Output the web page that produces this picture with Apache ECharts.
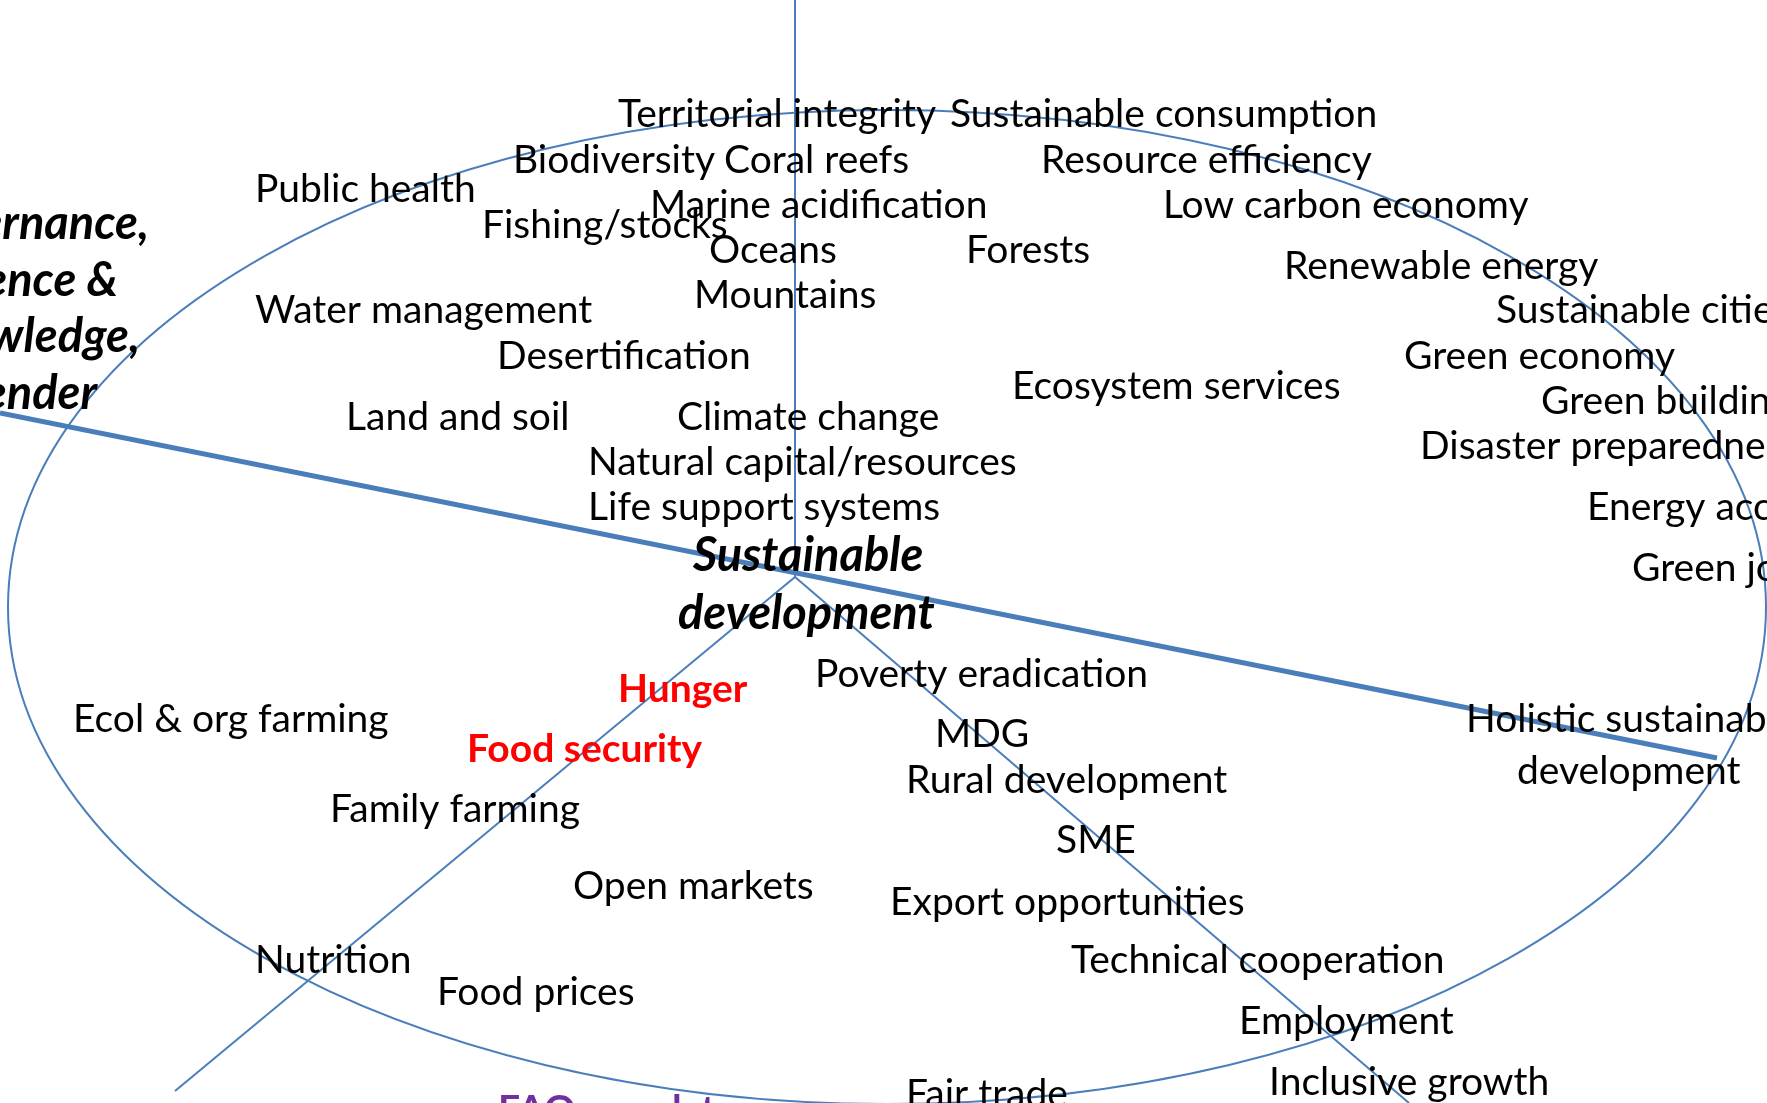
<!DOCTYPE html>
<html>
<head>
<meta charset="utf-8">
<title>Sustainable development</title>
<script src="https://cdn.jsdelivr.net/npm/echarts@6/dist/echarts.min.js"></script>
<style>
  html, body { margin: 0; padding: 0; background: #fff; }
  #chart { width: 1767px; height: 1103px; }
</style>
</head>
<body>
<div id="chart"></div>
<script>
// page space, in px of the original slide
const W = 1767, H = 1103

// ellipse: cx, cy, rx, ry
const ellipseData = [[887, 607, 879, 497]]

// straight strokes: [x1, y1, x2, y2]
const thinLines = [
  [795, 0, 795, 577],
  [795, 577, 175, 1091],
  [795, 577, 1409, 1103]
]
const thickLines = [
  [0, 413, 1717, 758]
]

// plain topics: [left x, middle y, text]
const topics = [
  [618, 114, 'Territorial integrity'],
  [950, 114, 'Sustainable consumption'],
  [513, 160, 'Biodiversity'],
  [724, 160, 'Coral reefs'],
  [1041, 160, 'Resource efficiency'],
  [255, 189, 'Public health'],
  [650, 205, 'Marine acidification'],
  [1163, 205, 'Low carbon economy'],
  [482, 225, 'Fishing/stocks'],
  [709, 250, 'Oceans'],
  [966, 250, 'Forests'],
  [1284, 266, 'Renewable energy'],
  [694, 295, 'Mountains'],
  [255, 310, 'Water management'],
  [1496, 310, 'Sustainable cities'],
  [497, 356, 'Desertification'],
  [1404, 356, 'Green economy'],
  [1012, 386, 'Ecosystem services'],
  [1541, 401, 'Green buildings'],
  [346, 417, 'Land and soil'],
  [677, 417, 'Climate change'],
  [1420, 446, 'Disaster preparedness'],
  [588, 462, 'Natural capital/resources'],
  [588, 507, 'Life support systems'],
  [1587, 507, 'Energy access'],
  [1632, 568, 'Green jobs'],
  [815, 674, 'Poverty eradication'],
  [73, 719, 'Ecol & org farming'],
  [1466, 719, 'Holistic sustainability'],
  [1517, 771, 'development'],
  [935, 734, 'MDG'],
  [906, 780, 'Rural development'],
  [330, 809, 'Family farming'],
  [1056, 840, 'SME'],
  [573, 886, 'Open markets'],
  [890, 902, 'Export opportunities'],
  [255, 960, 'Nutrition'],
  [1071, 960, 'Technical cooperation'],
  [437, 992, 'Food prices'],
  [1239, 1021, 'Employment'],
  [1269, 1082, 'Inclusive growth'],
  [906, 1094, 'Fair trade']
]

// red, bold
const foodTopics = [
  [618, 689, 'Hunger'],
  [467, 749, 'Food security']
]

// purple, bold
const faoTopics = [
  [498, 1110, 'FAO mandate']
]

// bold italic, centre heading
const centreTitle = [
  [693, 556, 'Sustainable'],
  [678, 614, 'development']
]

// bold italic, right aligned at [right x, middle y]
const sideTitle = [
  [149, 224, 'Governance,'],
  [118, 281, 'science &'],
  [140, 337, 'knowledge,'],
  [97, 394, 'gender']
]

const blue = '#4a7ebb'
const fam = 'Lato, "Open Sans", sans-serif'

function lineSeries(segs, width) {
  return segs.map(s => ({
    type: 'line',
    data: [[s[0], s[1]], [s[2], s[3]]],
    symbol: 'none',
    silent: true,
    lineStyle: { color: blue, width: width },
    z: 2
  }))
}

function textSeries(rows, font, color, align) {
  return {
    type: 'custom',
    data: rows,
    silent: true,
    z: 5,
    renderItem: (params, api) => {
      const p = api.coord([api.value(0), api.value(1)])
      return {
        type: 'text',
        x: p[0],
        y: p[1],
        style: {
          text: rows[params.dataIndex][2],
          font: font,
          fill: color,
          align: align || 'left',
          verticalAlign: 'middle'
        }
      }
    },
    encode: { x: 0, y: 1 }
  }
}

const chart = echarts.init(document.getElementById('chart'))
chart.setOption({
  animation: false,
  backgroundColor: '#fff',
  grid: { left: 0, right: 0, top: 0, bottom: 0 },
  xAxis: { type: 'value', min: 0, max: W, show: false },
  yAxis: { type: 'value', min: 0, max: H, inverse: true, show: false },
  series: [
    {
      type: 'custom',
      data: ellipseData,
      silent: true,
      z: 1,
      renderItem: (params, api) => {
        const c = api.coord([api.value(0), api.value(1)])
        const s = api.size([api.value(2), api.value(3)])
        return {
          type: 'ellipse',
          shape: { cx: c[0], cy: c[1], rx: s[0], ry: s[1] },
          style: { fill: null, stroke: blue, lineWidth: 2 }
        }
      },
      encode: { x: 0, y: 1 }
    },
    ...lineSeries(thinLines, 2),
    ...lineSeries(thickLines, 5),
    textSeries(topics, '39px ' + fam, '#000'),
    textSeries(foodTopics, 'bold 39px ' + fam, '#ff0000'),
    textSeries(faoTopics, 'bold 39px ' + fam, '#7030a0'),
    textSeries(centreTitle, 'italic bold 47px ' + fam, '#000'),
    textSeries(sideTitle, 'italic bold 47px ' + fam, '#000', 'right')
  ]
})
</script>
</body>
</html>
